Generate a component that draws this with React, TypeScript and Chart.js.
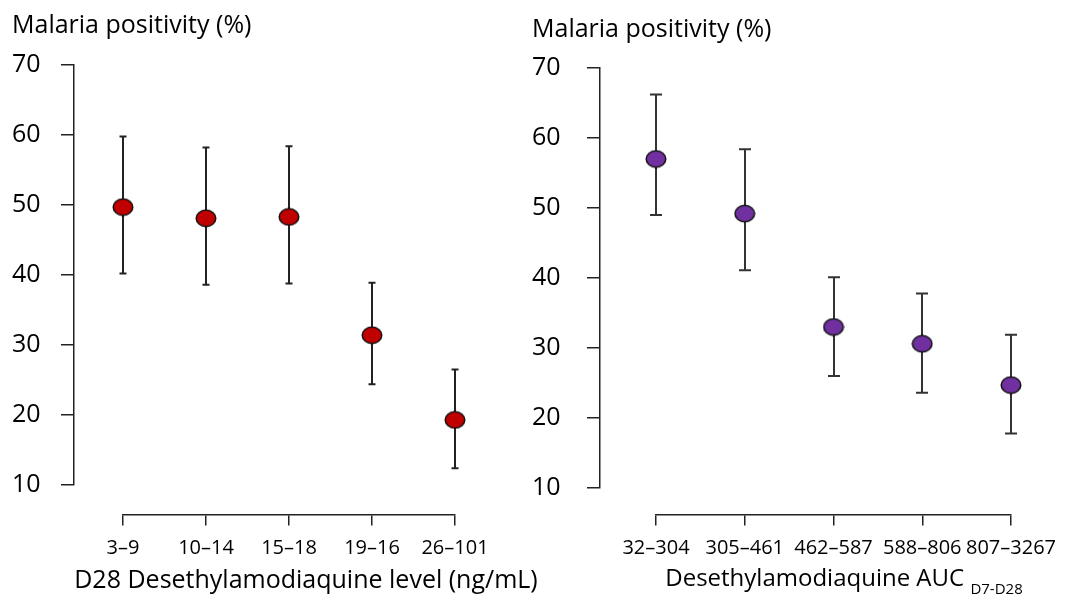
import React, { useEffect, useRef } from "react";
import { Chart, registerables } from "chart.js";

Chart.register(...registerables);

// ---------- data ----------
const leftCategories = ["3–9", "10–14", "15–18", "19–16", "26–101"];
const leftValues = [49.7, 48.1, 48.3, 31.4, 19.3];
const leftLower = [40.2, 38.6, 38.8, 24.4, 12.4];
const leftUpper = [59.8, 58.2, 58.4, 38.9, 26.5];

const rightCategories = ["32–304", "305–461", "462–587", "588–806", "807–3267"];
const rightValues = [57.0, 49.2, 33.0, 30.6, 24.7];
const rightLower = [49.0, 41.1, 26.0, 23.6, 17.8];
const rightUpper = [66.2, 58.4, 40.1, 37.8, 31.9];

const yMin = 10;
const yMax = 70;
const yStep = 10;

const FONT = "'Open Sans', 'Noto Sans', sans-serif";

function makeEllipse(fill: string) {
  const c = document.createElement("canvas");
  c.width = 22;
  c.height = 19;
  const g = c.getContext("2d")!;
  g.beginPath();
  g.ellipse(11, 9.5, 9.8, 8.2, 0, 0, Math.PI * 2);
  g.fillStyle = fill;
  g.fill();
  g.lineWidth = 1.5;
  g.strokeStyle = "#111";
  g.stroke();
  return c;
}

type PanelProps = {
  width: number;
  height: number;
  categories: string[];
  values: number[];
  lower: number[];
  upper: number[];
  fill: string;
  chartLeft: number;
  chartRight: number;
  chartTop: number;
  chartBottom: number;
  yAxisPx: number;
  xAxisPx: number;
  labelLeft: number;
  capWidth: number;
  barColor: string;
};

function Panel(p: PanelProps) {
  const ref = useRef<HTMLCanvasElement | null>(null);
  useEffect(() => {
    if (!ref.current) return;
    const n = p.categories.length;
    const xUnit = (p.chartRight - p.chartLeft) / (n - 1);
    const yUnit = (p.chartBottom - p.chartTop) / (yMax - yMin);
    const yAxisValue = (p.yAxisPx - p.chartLeft) / xUnit;
    const xAxisValue = yMin - (p.xAxisPx - p.chartBottom) / yUnit;

    const errorBars = {
      id: "errorBars",
      beforeDatasetsDraw(chart: any) {
        const xs = chart.scales.x;
        const ys = chart.scales.y;
        const ctx = chart.ctx;
        ctx.save();
        ctx.strokeStyle = p.barColor;
        ctx.lineWidth = 2;
        p.lower.forEach((lo, i) => {
          const px = Math.round(xs.getPixelForValue(i));
          const pLo = ys.getPixelForValue(lo);
          const pHi = ys.getPixelForValue(p.upper[i]);
          const h = p.capWidth / 2;
          ctx.beginPath();
          ctx.moveTo(px, pLo);
          ctx.lineTo(px, pHi);
          ctx.moveTo(px - h, pLo);
          ctx.lineTo(px + h, pLo);
          ctx.moveTo(px - h, pHi);
          ctx.lineTo(px + h, pHi);
          ctx.stroke();
        });
        ctx.restore();
      },
    };

    const marker = makeEllipse(p.fill);

    const chart = new Chart(ref.current, {
      type: "line",
      data: {
        labels: p.categories,
        datasets: [
          {
            data: p.values,
            showLine: false,
            pointStyle: marker as any,
            pointRadius: 10,
            pointHoverRadius: 10,
            backgroundColor: p.fill,
            borderColor: "#111",
            xAxisID: "x",
            yAxisID: "y",
          },
        ],
      },
      options: {
        responsive: false,
        animation: false,
        events: [],
        layout: {
          padding: {
            left: p.labelLeft,
            right: p.width - p.chartRight,
            top: p.chartTop,
            bottom: p.height - p.chartBottom,
          },
        },
        plugins: {
          legend: { display: false },
          tooltip: { enabled: false },
        },
        scales: {
          x: {
            type: "category",
            offset: false,
            position: { y: xAxisValue } as any,
            grid: {
              display: true,
              drawOnChartArea: false,
              drawTicks: true,
              tickLength: 10,
              color: "#222",
              lineWidth: 1.5,
            },
            border: { display: true, color: "#222", width: 1.5 },
            ticks: {
              color: "#000",
              font: { family: FONT, size: 20 },
              padding: 11,
              maxRotation: 0,
              autoSkip: false,
            },
            afterFit: (s: any) => {
              s.height = 0;
            },
          },
          y: {
            type: "linear",
            min: yMin,
            max: yMax,
            position: { x: yAxisValue } as any,
            grid: {
              display: true,
              drawOnChartArea: false,
              drawTicks: true,
              tickLength: 12,
              color: "#222",
              lineWidth: 1.5,
            },
            border: { display: true, color: "#222", width: 1.5 },
            ticks: { display: false, stepSize: yStep },
            afterFit: (s: any) => {
              s.width = 0;
            },
          },
          yl: {
            type: "linear",
            min: yMin,
            max: yMax,
            position: "left",
            grid: { display: false },
            border: { display: false },
            ticks: {
              stepSize: yStep,
              color: "#000",
              font: { family: FONT, size: 25 },
              padding: 0,
              crossAlign: "far",
            },
            afterFit: (s: any) => {
              s.width = p.chartLeft - p.labelLeft;
            },
          },
        },
      } as any,
      plugins: [errorBars],
    });
    return () => chart.destroy();
  }, []);
  return <canvas ref={ref} width={p.width} height={p.height} style={{ display: "block" }} />;
}

const titleStyle: React.CSSProperties = {
  position: "absolute",
  fontFamily: FONT,
  fontSize: 25,
  lineHeight: 1,
  color: "#000",
  whiteSpace: "nowrap",
};

export default function App() {
  return (
    <div
      style={{
        position: "absolute",
        left: 0,
        top: 0,
        width: 1072,
        height: 598,
        background: "#fff",
        overflow: "hidden",
      }}
    >
      <div style={{ position: "absolute", left: 0, top: 0 }}>
        <Panel
          width={500}
          height={598}
          categories={leftCategories}
          values={leftValues}
          lower={leftLower}
          upper={leftUpper}
          fill="#C00000"
          chartLeft={123}
          chartRight={455}
          chartTop={65}
          chartBottom={485}
          yAxisPx={74}
          xAxisPx={515}
          labelLeft={12}
          capWidth={7}
          barColor="#222"
        />
      </div>
      <div style={{ position: "absolute", left: 500, top: 0 }}>
        <Panel
          width={572}
          height={598}
          categories={rightCategories}
          values={rightValues}
          lower={rightLower}
          upper={rightUpper}
          fill="#7030A0"
          chartLeft={156}
          chartRight={511}
          chartTop={68}
          chartBottom={488}
          yAxisPx={100}
          xAxisPx={515}
          labelLeft={32}
          capWidth={12}
          barColor="#333"
        />
      </div>
      <div style={{ ...titleStyle, left: 12, top: 11 }}>Malaria positivity (%)</div>
      <div style={{ ...titleStyle, left: 532, top: 15 }}>Malaria positivity (%)</div>
      <div style={{ ...titleStyle, left: 56, width: 500, top: 566, textAlign: "center" }}>
        D28 Desethylamodiaquine level (ng/mL)
      </div>
      <div style={{ ...titleStyle, fontSize: 24, left: 594, width: 500, top: 565, textAlign: "center" }}>
        Desethylamodiaquine AUC{" "}
        <span style={{ fontSize: 15, verticalAlign: -8 }}>D7-D28</span>
      </div>
    </div>
  );
}
